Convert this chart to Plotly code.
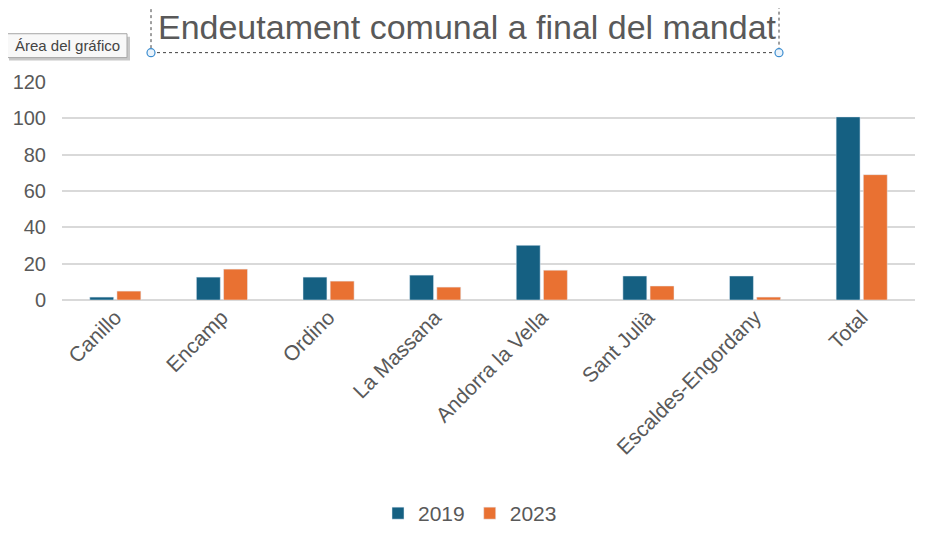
import plotly.graph_objects as go

categories = ["Canillo", "Encamp", "Ordino", "La Massana", "Andorra la Vella",
              "Sant Julià", "Escaldes-Engordany", "Total"]
values_2019 = [1.6, 12.6, 12.6, 13.7, 30.1, 13.2, 13.2, 100.8]
values_2023 = [4.9, 17.0, 10.4, 7.1, 16.4, 7.7, 1.6, 69.0]
series_names = ["2019", "2023"]
y_ticks = [0, 20, 40, 60, 80, 100, 120]

BLUE = "#156082"
ORANGE = "#E97132"
TXT = "#595959"
FONT = "Liberation Sans"

# page has an 8px body margin; work in page pixels and convert
OFF = 8
W, H = 925 - OFF, 534 - OFF
PL, PR, PT, PB = 62, 915, 81.5, 300.5   # plot area in page px
L = PL - OFF
R = W - (PR - OFF)
T = PT - OFF
B = H - (PB - OFF)
PW = PR - PL
PH = PB - PT


def px(x):
    return (x - PL) / PW


def py(y):
    return (PB - y) / PH


fig = go.Figure()
fig.add_trace(go.Bar(x=categories, y=values_2019, name=series_names[0], marker_color=BLUE))
fig.add_trace(go.Bar(x=categories, y=values_2023, name=series_names[1], marker_color=ORANGE))

fig.update_layout(
    width=W, height=H,
    margin=dict(l=L, r=R, t=T, b=B, autoexpand=False),
    paper_bgcolor="white", plot_bgcolor="white",
    barmode="group", bargap=0.49, bargroupgap=0.12,
    font=dict(family=FONT, color=TXT, size=20),
    title=dict(text="Endeutament comunal a final del mandat",
               x=(467 - OFF) / W, xanchor="center", xref="container",
               y=1 - (27 - OFF) / H, yanchor="middle", yref="container",
               font=dict(family=FONT, size=34, color=TXT), automargin=False),
    showlegend=True,
    legend=dict(orientation="h", x=px(470), xanchor="center", y=py(515),
                yanchor="middle", font=dict(size=21, color=TXT),
                traceorder="normal"),
    xaxis=dict(tickangle=-45, showgrid=False, showline=False, ticks="",
               tickfont=dict(size=21, color=TXT), automargin=False),
    yaxis=dict(range=[0, 120], tickvals=y_ticks, showgrid=True, gridcolor="#D9D9D9",
               gridwidth=1.5, zeroline=True, zerolinecolor="#D9D9D9", zerolinewidth=1.5,
               ticks="", tickfont=dict(size=20, color=TXT), automargin=False,
               ticklabelstandoff=15),
)

# Excel selection decorations: dotted title frame with handles and tooltip
fig.add_shape(type="rect", xref="paper", yref="paper",
              x0=px(151), x1=px(779), y0=py(52), y1=py(-2),
              line=dict(color="#404040", width=1, dash="dot"), layer="above")
r = 4
for (hx, hy) in [(151, 52), (779, 52), (151, 0), (779, 0)]:
    fig.add_shape(type="circle", xref="paper", yref="paper",
                  x0=px(hx - r), x1=px(hx + r), y0=py(hy + r), y1=py(hy - r),
                  line=dict(color="#3C8DD0", width=1.2), fillcolor="#EAF3FB",
                  layer="above")
# tooltip shadow + box
fig.add_shape(type="rect", xref="paper", yref="paper",
              x0=px(9), x1=px(130), y0=py(60), y1=py(36),
              line=dict(width=0), fillcolor="#C8C8C8", layer="above")
fig.add_shape(type="rect", xref="paper", yref="paper",
              x0=px(7), x1=px(127), y0=py(57), y1=py(33),
              line=dict(color="#A6A6A6", width=1), fillcolor="#F8F8F8", layer="above")
fig.add_annotation(text="Área del gráfico", xref="paper", yref="paper",
                   x=px(67), y=py(45), xanchor="center", yanchor="middle",
                   showarrow=False, font=dict(family=FONT, size=15, color="#444444"))

fig.write_html("out.html")
